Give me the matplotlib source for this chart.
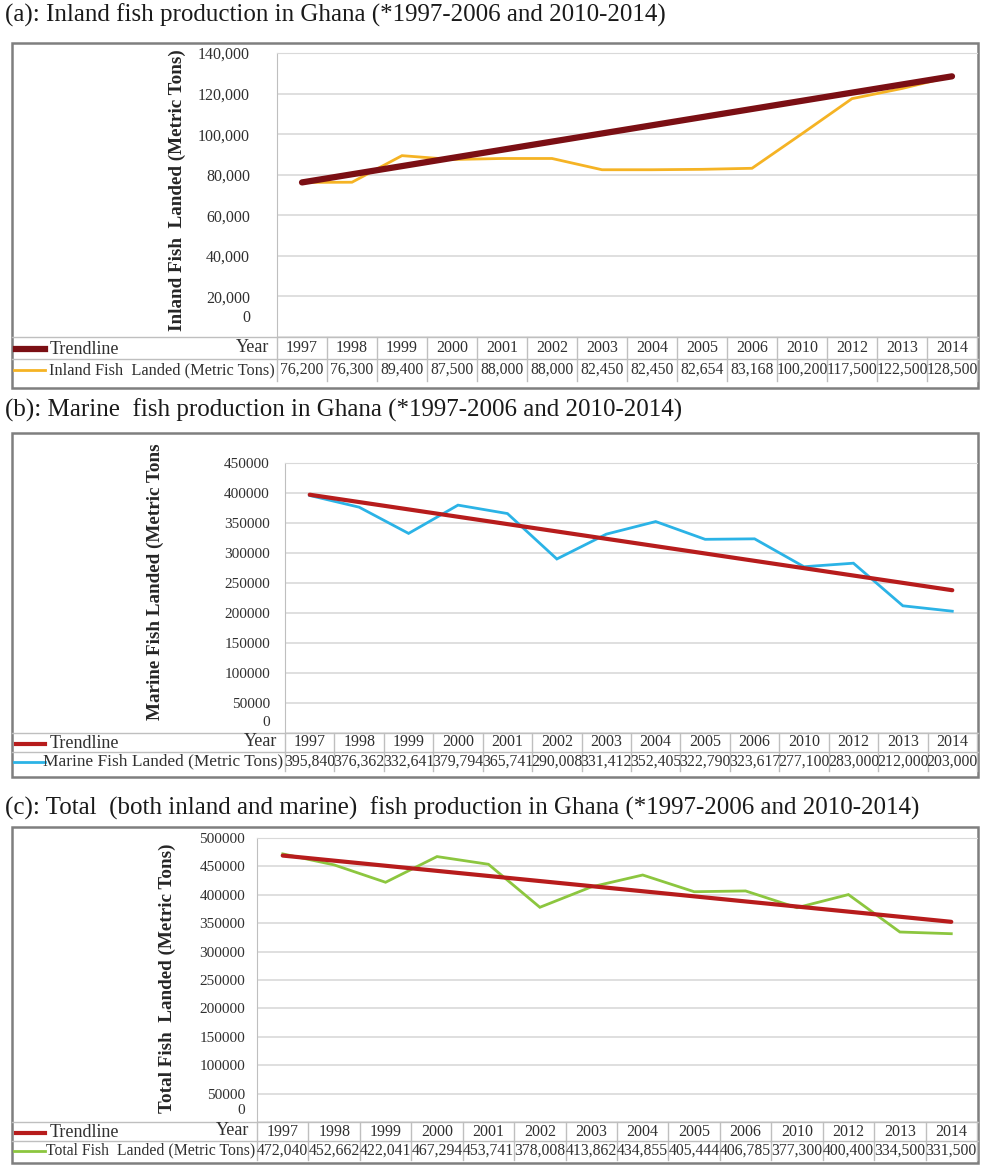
import numpy as np
import matplotlib
matplotlib.use("Agg")
import matplotlib.pyplot as plt
import matplotlib.ticker as mticker
from matplotlib.patches import Rectangle
from matplotlib.transforms import blended_transform_factory

# Data
years = ["1997", "1998", "1999", "2000", "2001", "2002", "2003",
         "2004", "2005", "2006", "2010", "2012", "2013", "2014"]
inland = [76200, 76300, 89400, 87500, 88000, 88000, 82450,
          82450, 82654, 83168, 100200, 117500, 122500, 128500]
marine = [395840, 376362, 332641, 379794, 365741, 290008, 331412,
          352405, 322790, 323617, 277100, 283000, 212000, 203000]
total = [472040, 452662, 422041, 467294, 453741, 378008, 413862,
         434855, 405444, 406785, 377300, 400400, 334500, 331500]

titles = [
    "(a): Inland fish production in Ghana (*1997-2006 and 2010-2014)",
    "(b): Marine  fish production in Ghana (*1997-2006 and 2010-2014)",
    "(c): Total  (both inland and marine)  fish production in Ghana (*1997-2006 and 2010-2014)",
]
ylabels = ["Inland Fish  Landed (Metric Tons)",
           "Marine Fish Landed (Metric Tons",
           "Total Fish  Landed (Metric Tons)"]
row_labels = ["Inland Fish  Landed (Metric Tons)",
              "Marine Fish Landed (Metric Tons)",
              "Total Fish  Landed (Metric Tons)"]

plt.rcParams["font.family"] = ["Liberation Serif", "DejaVu Serif"]

W, H = 982, 1169
fig = plt.figure(figsize=(W / 100, H / 100), dpi=100)

# full-figure canvas in pixel coordinates for frames, titles and tables
canvas = fig.add_axes([0, 0, 1, 1], zorder=0)
canvas.set_xlim(0, W)
canvas.set_ylim(H, 0)
canvas.axis("off")

grid_c = "#d9d9d9"
cell_c = "#bfbfbf"
text_c = "#303030"

panels = [
    dict(ty=15, box=(12, 43, 978, 388), plot=(277, 53, 977, 337), rowh=22,
         ylab=(177, 190), pad=27, zoff=19, ymax=140000, step=20000, comma=True,
         vals=inland, color="#f5b324", trend="ends", tcol="#7b0f14", tlw=4.5,
         lfs=11.8, tfs=11.5),
    dict(ty=410, box=(12, 433, 978, 777), plot=(285, 463, 977, 733), rowh=19,
         ylab=(155, 582), pad=15, zoff=11, ymax=450000, step=50000, comma=False,
         vals=marine, color="#2bb3e6", trend="fit", tcol="#b71c1c", tlw=3,
         lfs=12.4, tfs=11),
    dict(ty=808, box=(12, 827, 978, 1163), plot=(257, 838, 977, 1122), rowh=19,
         ylab=(167, 978), pad=12, zoff=12, ymax=500000, step=50000, comma=False,
         vals=total, color="#8cc63f", trend="fit", tcol="#b71c1c", tlw=3,
         lfs=11.3, tfs=11),
]

x = np.arange(len(years))

for i, p in enumerate(panels):
    bx0, by0, bx1, by1 = p["box"]
    canvas.add_patch(Rectangle((bx0, by0), bx1 - bx0, by1 - by0, fill=False,
                               edgecolor="#7f7f7f", lw=1.8))
    canvas.text(5, p["ty"], titles[i], fontsize=18, va="center", ha="left",
                color="#1a1a1a")

    l, t, r, b = p["plot"]
    ax = fig.add_axes([l / W, 1 - b / H, (r - l) / W, (b - t) / H], zorder=1)
    ax.set_facecolor("none")
    ax.set_xlim(-0.5, len(years) - 0.5)
    ax.set_ylim(0, p["ymax"])
    ax.set_yticks(np.arange(0, p["ymax"] + 1, p["step"]))
    # the zero label sits a little above the table, drawn separately below
    if p["comma"]:
        fmt = lambda v, _: "" if v == 0 else f"{int(v):,}"
    else:
        fmt = lambda v, _: "" if v == 0 else f"{int(v)}"
    ax.yaxis.set_major_formatter(mticker.FuncFormatter(fmt))
    ax.tick_params(axis="y", length=0, pad=p["pad"] * 0.72, labelsize=p["tfs"],
                   labelcolor=text_c)
    ax.set_xticks([])
    ax.grid(axis="y", color=grid_c, lw=1.2)
    ax.set_axisbelow(True)
    for side in ["right", "bottom"]:
        ax.spines[side].set_visible(False)
    ax.spines["left"].set_color(cell_c)
    ax.spines["top"].set_color(grid_c)
    canvas.text(l - p["pad"], b - p["zoff"], "0", fontsize=p["tfs"], ha="right",
                va="center", color=text_c)

    vals = np.array(p["vals"], dtype=float)
    ax.plot(x, vals, color=p["color"], lw=2, solid_joinstyle="miter", zorder=3)
    if p["trend"] == "fit":
        k, c0 = np.polyfit(x, vals, 1)
        ax.plot(x, k * x + c0, color=p["tcol"], lw=p["tlw"],
                solid_capstyle="round", zorder=4)
    else:
        ax.plot([x[0], x[-1]], [vals[0], vals[-1]], color=p["tcol"],
                lw=p["tlw"], solid_capstyle="round", zorder=4)

    canvas.text(p["ylab"][0], p["ylab"][1], ylabels[i], rotation=90,
                fontsize=13.8, fontweight="bold", ha="center", va="center",
                color="#262626")

    # data table under the chart
    rh = p["rowh"]
    tr = blended_transform_factory(ax.transData, canvas.transData)
    for yy in [b, b + rh]:
        canvas.plot([bx0, bx1], [yy, yy], color=cell_c, lw=1)
    for k_ in range(len(years) + 1):
        canvas.plot([k_ - 0.5, k_ - 0.5], [b, b + 2 * rh], color=cell_c, lw=1,
                    transform=tr)
    yc1 = b + rh / 2
    yc2 = b + 1.5 * rh
    for j, yr in enumerate(years):
        canvas.text(j, yc1, yr, transform=tr, ha="center", va="center",
                    fontsize=11.5, color=text_c)
        canvas.text(j, yc2, f"{p['vals'][j]:,}", transform=tr, ha="center",
                    va="center", fontsize=11.3, color=text_c)
    canvas.plot([16, 45], [yc1 + 1, yc1 + 1], color=p["tcol"], lw=p["tlw"])
    canvas.text(50, yc1 + 1, "Trendline", fontsize=13, ha="left", va="center",
                color=text_c)
    canvas.text(l - 8, yc1 - 1, "Year", fontsize=13, ha="right", va="center",
                color=text_c)
    canvas.plot([14, 45], [yc2, yc2], color=p["color"], lw=2)
    canvas.text(l - 2, yc2, row_labels[i], fontsize=p["lfs"], ha="right",
                va="center", color=text_c)

fig.savefig("out.png", dpi=100)
